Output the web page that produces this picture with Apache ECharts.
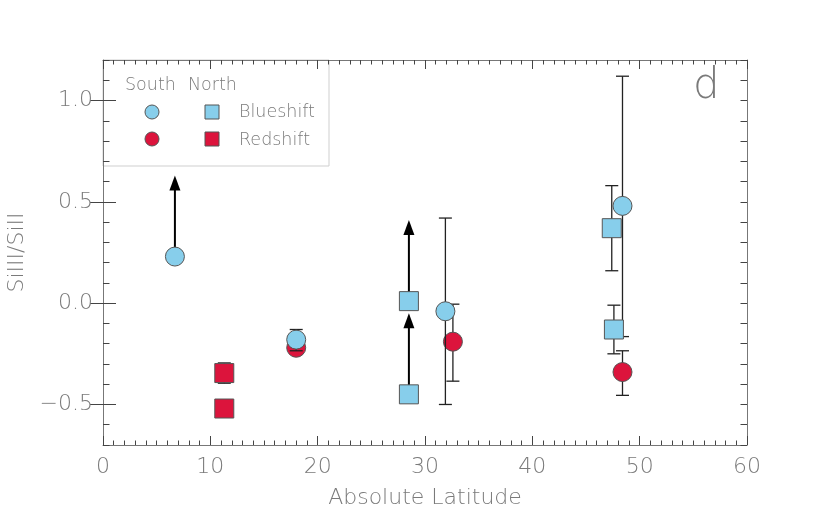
<!DOCTYPE html>
<html>
<head>
<meta charset="utf-8">
<script src="https://cdn.jsdelivr.net/npm/echarts@6/dist/echarts.min.js"></script>
<style>
  html, body { margin: 0; padding: 0; background: #fff; }
  #chart { width: 830px; height: 519px; }
</style>
</head>
<body>
<div id="chart"></div>
<script>
// values: [latitude, ratio]
const southBlue = [[6.7, 0.23], [18.0, -0.18], [31.9, -0.04], [48.4, 0.48]];
const southRed = [[18.0, -0.22], [32.6, -0.19], [48.4, -0.34]];
const northBlue = [[28.5, 0.01], [28.5, -0.45], [47.4, 0.37], [47.6, -0.13]];
const northRed = [[11.3, -0.345], [11.3, -0.52]];
// error bars: [latitude, low, high]
const blueErr = [[18.0, -0.235, -0.13], [31.9, -0.50, 0.42], [48.4, -0.165, 1.12], [47.4, 0.16, 0.58], [47.6, -0.25, -0.01]];
const redErr = [[11.3, -0.395, -0.295], [32.6, -0.385, -0.005], [48.4, -0.455, -0.235]];
// lower limits: [latitude, from, arrow tip]
const lowerLimits = [[6.7, 0.23, 0.63], [28.5, 0.01, 0.41], [28.5, -0.45, -0.05]];
const yMajor = [-0.5, 0, 0.5, 1.0];

const BLUE = '#87ceeb', RED = '#dc143c';
const FONT = 'DejaVu Sans';
const GREY = '#7a7a7a';

const chart = echarts.init(document.getElementById('chart'));

function errRender(params, api) {
  const x = api.value(0);
  const lo = api.coord([x, api.value(1)]);
  const hi = api.coord([x, api.value(2)]);
  const w = 6.5;
  const st = { stroke: '#222', lineWidth: 1.3 };
  return {
    type: 'group',
    children: [
      { type: 'line', shape: { x1: lo[0], y1: lo[1], x2: hi[0], y2: hi[1] }, style: st },
      { type: 'line', shape: { x1: lo[0] - w, y1: lo[1], x2: lo[0] + w, y2: lo[1] }, style: st },
      { type: 'line', shape: { x1: hi[0] - w, y1: hi[1], x2: hi[0] + w, y2: hi[1] }, style: st }
    ]
  };
}

function arrowRender(params, api) {
  const x = api.value(0);
  const a = api.coord([x, api.value(1)]);
  const b = api.coord([x, api.value(2)]);
  const hl = 15, hw = 5.5;
  return {
    type: 'group',
    children: [
      { type: 'line', shape: { x1: a[0], y1: a[1], x2: b[0], y2: b[1] + hl - 2 }, style: { stroke: '#000', lineWidth: 2 } },
      { type: 'polygon', shape: { points: [[b[0], b[1]], [b[0] - hw, b[1] + hl], [b[0] + hw, b[1] + hl]] }, style: { fill: '#000' } }
    ]
  };
}

const fmt = v => {
  if (Math.abs(v) < 1e-9) return '0.0';
  return (v < 0 ? '\u2212' : '') + Math.abs(v).toFixed(1);
};

const lab = { color: GREY, fontFamily: FONT, fontWeight: 200, fontSize: 22 };

const xBase = {
  type: 'value', min: 0, max: 60, interval: 10,
  axisLine: { show: true, onZero: false, lineStyle: { color: '#777', width: 1 } },
  axisTick: { show: true, inside: true, length: 9, lineStyle: { color: '#444' } },
  minorTick: { show: true, splitNumber: 10, length: 4.5, lineStyle: { color: '#444' } },
  splitLine: { show: false }
};
const yMinor = {
  type: 'value', min: -0.7, max: 1.2, interval: 0.1,
  axisLine: { show: true, onZero: false, lineStyle: { color: '#777', width: 1 } },
  axisTick: { show: true, inside: true, length: 6.5, lineStyle: { color: '#444' } },
  axisLabel: { show: false },
  splitLine: { show: false }
};
const yMajorAxis = {
  type: 'value', min: -0.7, max: 1.2,
  axisLine: { show: false },
  axisTick: { show: true, inside: true, length: 13, customValues: yMajor, lineStyle: { color: '#444' } },
  axisLabel: { show: false },
  splitLine: { show: false }
};

const legendFont = '200 17.5px "DejaVu Sans"';

chart.setOption({
  animation: false,
  backgroundColor: '#fff',
  grid: { left: 103, right: 83, top: 60, bottom: 74, containLabel: false, outerBoundsMode: 'none' },
  xAxis: [
    Object.assign({}, xBase, {
      position: 'bottom',
      name: 'Absolute Latitude', nameLocation: 'middle', nameGap: 42,
      nameTextStyle: lab,
      axisLabel: Object.assign({ margin: 11 }, lab)
    }),
    Object.assign({}, xBase, { position: 'top', axisLabel: { show: false } })
  ],
  yAxis: [
    Object.assign({}, yMinor, {
      position: 'left',
      name: 'SiIII/SiII', nameLocation: 'middle', nameGap: 73, nameRotate: 90,
      nameTextStyle: lab,
      axisLabel: Object.assign({ show: true, margin: 10, customValues: yMajor, formatter: fmt }, lab)
    }),
    Object.assign({}, yMajorAxis, { position: 'left' }),
    Object.assign({}, yMinor, { position: 'right' }),
    Object.assign({}, yMajorAxis, { position: 'right' })
  ],
  graphic: [
    { type: 'rect', z: -1, shape: { x: 103, y: 60, width: 226, height: 106 },
      style: { fill: '#fff', stroke: '#cfcfcf', lineWidth: 1 } },
    { type: 'text', x: 125, y: 85, style: { text: 'South', font: legendFont, fill: GREY, verticalAlign: 'middle' } },
    { type: 'text', x: 188, y: 85, style: { text: 'North', font: legendFont, fill: GREY, verticalAlign: 'middle' } },
    { type: 'circle', shape: { cx: 152, cy: 112, r: 7 }, style: { fill: BLUE, stroke: '#555', lineWidth: 1 } },
    { type: 'rect', shape: { x: 205, y: 105, width: 14, height: 14 }, style: { fill: BLUE, stroke: '#555', lineWidth: 1 } },
    { type: 'text', x: 239, y: 112, style: { text: 'Blueshift', font: legendFont, fill: GREY, verticalAlign: 'middle' } },
    { type: 'circle', shape: { cx: 152, cy: 139, r: 7 }, style: { fill: RED, stroke: '#555', lineWidth: 1 } },
    { type: 'rect', shape: { x: 205, y: 132, width: 14, height: 14 }, style: { fill: RED, stroke: '#555', lineWidth: 1 } },
    { type: 'text', x: 239, y: 140, style: { text: 'Redshift', font: legendFont, fill: GREY, verticalAlign: 'middle' } },
    { type: 'text', x: 693, y: 87, style: { text: 'd', font: '200 42px "DejaVu Sans"', fill: GREY, verticalAlign: 'middle' } }
  ],
  series: [
    { type: 'custom', name: 'redErr', renderItem: errRender, data: redErr, encode: { x: 0, y: [1, 2] }, z: 2 },
    { type: 'scatter', name: 'South Redshift', data: southRed, symbol: 'circle', symbolSize: 19,
      itemStyle: { color: RED, borderColor: '#555', borderWidth: 1, opacity: 1 }, z: 3 },
    { type: 'scatter', name: 'North Redshift', data: northRed, symbol: 'rect', symbolSize: 19,
      itemStyle: { color: RED, borderColor: '#555', borderWidth: 1, opacity: 1 }, z: 3 },
    { type: 'custom', name: 'blueErr', renderItem: errRender, data: blueErr, encode: { x: 0, y: [1, 2] }, z: 4 },
    { type: 'custom', name: 'limits', renderItem: arrowRender, data: lowerLimits, encode: { x: 0, y: [1, 2] }, z: 4 },
    { type: 'scatter', name: 'South Blueshift', data: southBlue, symbol: 'circle', symbolSize: 19,
      itemStyle: { color: BLUE, borderColor: '#555', borderWidth: 1, opacity: 1 }, z: 5 },
    { type: 'scatter', name: 'North Blueshift', data: northBlue, symbol: 'rect', symbolSize: 19,
      itemStyle: { color: BLUE, borderColor: '#555', borderWidth: 1, opacity: 1 }, z: 5 }
  ]
});
</script>
</body>
</html>
